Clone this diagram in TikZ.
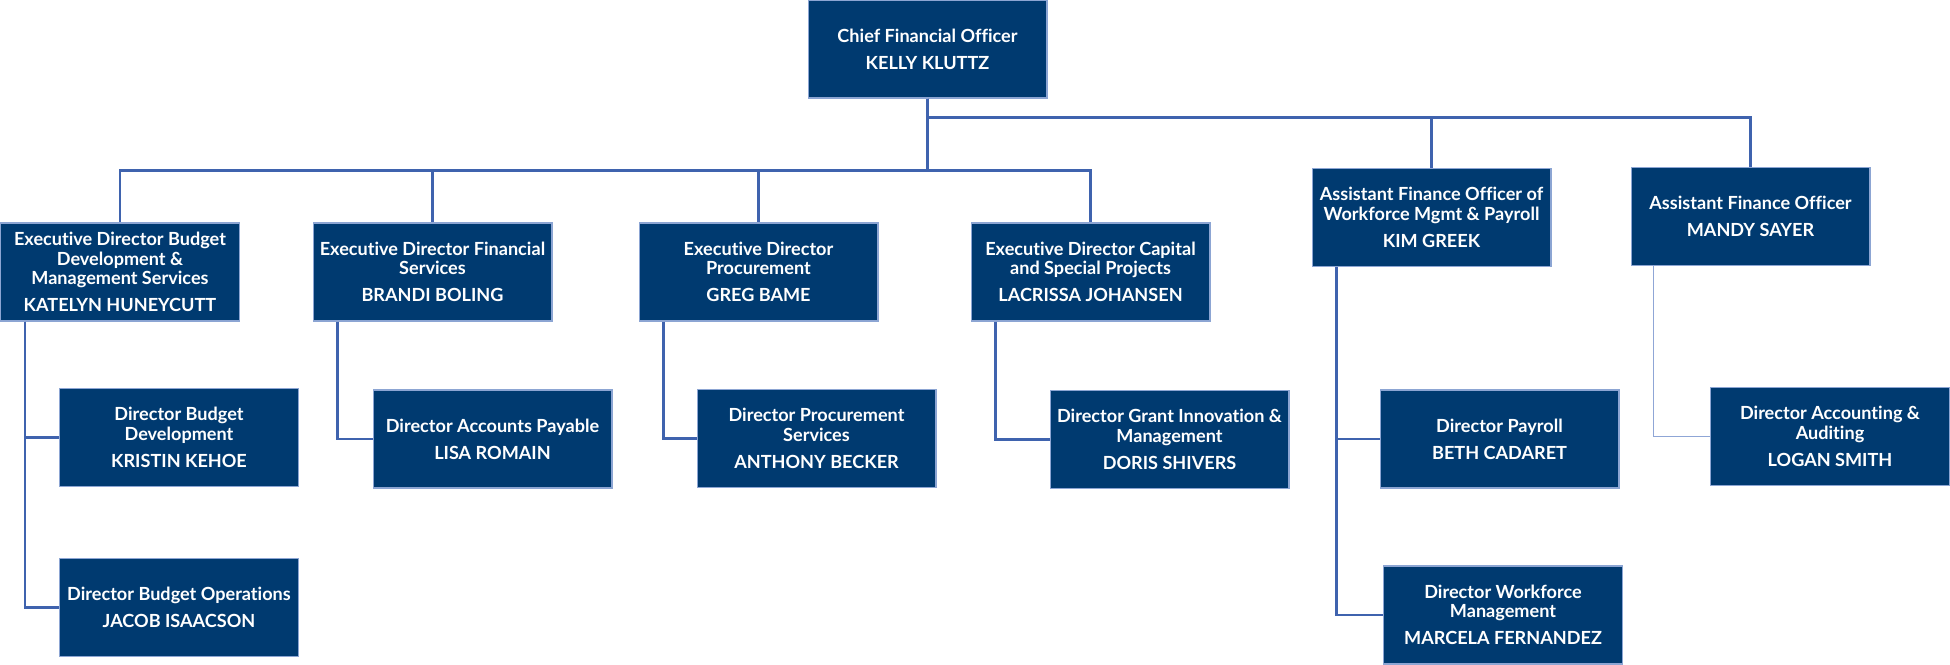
\documentclass[tikz,border=0pt]{standalone}
\usepackage{fontspec}
\setmainfont{Lato}[Ligatures=NoCommon]
\usetikzlibrary{calc}
\definecolor{navy}{HTML}{003A70}
\definecolor{rim}{HTML}{8CA5D3}
\definecolor{wire}{HTML}{3F63AE}
\definecolor{palewire}{HTML}{8FA6D6}
\newcommand{\role}[2]{#1\\[4.5pt]#2}

\begin{document}
\begin{tikzpicture}[x=0.02cm, y=-0.02cm,
	post/.style={draw=rim, line width=0.6pt, fill=navy, text=white, align=center,
		minimum width=4.78cm, minimum height=1.96cm, inner sep=0pt,
		font=\fontsize{10.3}{11}\selectfont\bfseries},
	link/.style={draw=wire, line width=1.4pt},
	palelink/.style={draw=palewire, line width=0.8pt}]
	%%%%% START %%%%%
	\useasboundingbox (0,0) rectangle (1950,665);
	
	\node[post] (cfo) at (927.5, 49) {\role{Chief Financial Officer}{KELLY KLUTTZ}};
	
	% executive directors
	\node[post] (katelyn) at (120, 272) {\role{Executive Director Budget\\Development \&\\Management Services}{KATELYN HUNEYCUTT}};
	\node[post] (brandi) at (432.5, 272) {\role{Executive Director Financial\\Services}{BRANDI BOLING}};
	\node[post] (greg) at (758.5, 272) {\role{Executive Director\\Procurement}{GREG BAME}};
	\node[post] (lacrissa) at (1090.5, 272) {\role{Executive Director Capital\\and Special Projects}{LACRISSA JOHANSEN}};
	\node[post] (kim) at (1431.5, 217.5) {\role{Assistant Finance Officer of\\Workforce Mgmt \& Payroll}{KIM GREEK}};
	\node[post] (mandy) at (1750.5, 216.5) {\role{Assistant Finance Officer}{MANDY SAYER}};
	
	% directors
	\node[post] (kristin) at (179, 437.5) {\role{Director Budget\\Development}{KRISTIN KEHOE}};
	\node[post] (jacob) at (179, 607.5) {\role{Director Budget Operations}{JACOB ISAACSON}};
	\node[post] (lisa) at (492.5, 439) {\role{Director Accounts Payable}{LISA ROMAIN}};
	\node[post] (anthony) at (816.5, 438.5) {\role{Director Procurement\\Services}{ANTHONY BECKER}};
	\node[post] (doris) at (1169.5, 439.5) {\role{Director Grant Innovation \&\\Management}{DORIS SHIVERS}};
	\node[post] (beth) at (1499.5, 439) {\role{Director Payroll}{BETH CADARET}};
	\node[post] (marcela) at (1503, 615) {\role{Director Workforce\\Management}{MARCELA FERNANDEZ}};
	\node[post] (logan) at (1830, 436.5) {\role{Director Accounting \&\\Auditing}{LOGAN SMITH}};
	
	% cfo to level two
	\draw[link] (cfo.south) -- ++(0,72) -| (katelyn.north);
	\draw[link] (cfo.south) -- ++(0,72) -| (brandi.north);
	\draw[link] (cfo.south) -- ++(0,72) -| (greg.north);
	\draw[link] (cfo.south) -- ++(0,72) -| (lacrissa.north);
	\draw[link] (cfo.south) -- ++(0,19) -| (kim.north);
	\draw[link] (cfo.south) -- ++(0,19) -| (mandy.north);
	
	% level two to directors
	\draw[link] ($(katelyn.south west)+(25,0)$) |- (kristin.west);
	\draw[link] ($(katelyn.south west)+(25,0)$) |- (jacob.west);
	\draw[link] ($(brandi.south west)+(25,0)$) |- (lisa.west);
	\draw[link] ($(greg.south west)+(25,0)$) |- (anthony.west);
	\draw[link] ($(lacrissa.south west)+(25,0)$) |- (doris.west);
	\draw[link] ($(kim.south west)+(25,0)$) |- (beth.west);
	\draw[link] ($(kim.south west)+(25,0)$) |- (marcela.west);
	\draw[palelink] ($(mandy.south west)+(23,0)$) |- (logan.west);
	%%%%% END %%%%%
\end{tikzpicture}
\end{document}
